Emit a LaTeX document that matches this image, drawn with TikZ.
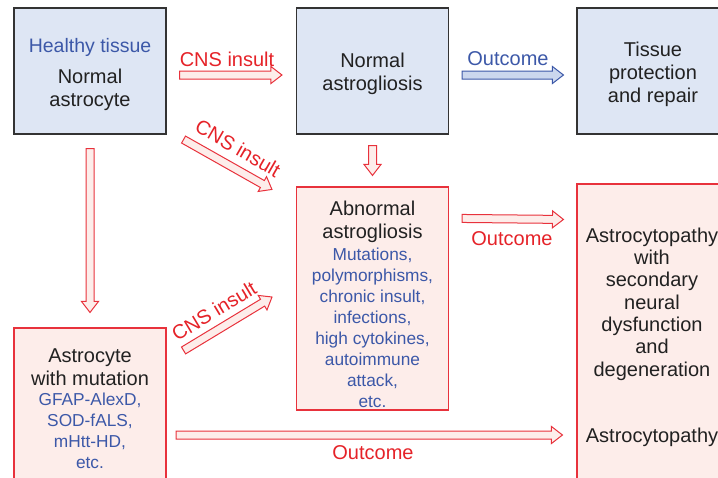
\documentclass[tikz,border=0pt]{standalone}
\usepackage{fontspec}
\setmainfont{Liberation Sans}
\usetikzlibrary{calc}
\definecolor{bfill}{HTML}{DEE6F4}
\definecolor{bdraw}{HTML}{333333}
\definecolor{pfill}{HTML}{FDEDEA}
\definecolor{pdraw}{HTML}{E8323C}
\definecolor{rtext}{HTML}{E52228}
\definecolor{btext}{HTML}{3C58A8}
\definecolor{bafill}{HTML}{CBD7EE}
\newcommand{\blockarr}[3]{%
  \draw[#1] ($(#2)!4pt!90:(#3)$)
    -- ($($(#3)!11pt!(#2)$)!4pt!90:(#3)$)
    -- ($($(#3)!11pt!(#2)$)!8.5pt!90:(#3)$)
    -- (#3)
    -- ($($(#3)!11pt!(#2)$)!8.5pt!-90:(#3)$)
    -- ($($(#3)!11pt!(#2)$)!4pt!-90:(#3)$)
    -- ($(#2)!4pt!-90:(#3)$) -- cycle;}
\tikzset{
  bbox/.style={draw=bdraw, fill=bfill, line width=1.1pt, minimum width=152pt, inner sep=0pt},
  pbox/.style={draw=pdraw, fill=pfill, line width=1.1pt, minimum width=152pt, inner sep=0pt},
  blk/.style={align=center, font=\fontsize{20}{23}\selectfont, text=black!87, inner sep=0pt},
  blu/.style={align=center, font=\fontsize{17.3}{21}\selectfont, text=btext, inner sep=0pt},
  rlab/.style={font=\fontsize{20}{23}\selectfont, text=rtext, inner sep=0pt},
  blab/.style={font=\fontsize{20}{23}\selectfont, text=btext, inner sep=0pt},
  rarr/.style={draw=pdraw, fill=pfill, line width=1pt, line join=miter},
  barr/.style={draw=btext, fill=bafill, line width=1pt, line join=miter},
}
\begin{document}
\begin{tikzpicture}[x=1pt, y=-1pt]
\useasboundingbox (0,0) rectangle (718,477);
\clip (0,0) rectangle (718,477);
% boxes
\node[bbox, minimum height=126pt] (healthy) at (90,71) {};
\node[bbox, minimum height=126pt] (normal) at (372.5,71) {};
\node[bbox, minimum height=126pt] (tissue) at (653,71) {};
\node[pbox, minimum height=223pt] (abnormal) at (372.5,298.5) {};
\node[pbox, minimum height=330pt] (astropathy) at (653,349) {};
\node[pbox, minimum height=200pt] (mutation) at (90,428) {};
% texts
\node[blu, font=\fontsize{19.5}{23}\selectfont] (t1a) at (90,47) {Healthy tissue};
\node[blk] (t1b) at (90,90) {Normal\\astrocyte};
\node[blk] (t2) at (372.5,74) {Normal\\astrogliosis};
\node[blk] (t3) at (653,74) {Tissue\\protection\\and repair};
\node[blk] (t4a) at (372.5,222) {Abnormal\\astrogliosis};
\node[blu] (t4b) at (372.5,327.5) {Mutations,\\polymorphisms,\\chronic insult,\\infections,\\high cytokines,\\autoimmune\\attack,\\etc.};
\node[blk] (t6a) at (90,367) {Astrocyte\\with mutation};
\node[blu] (t6b) at (90,430.5) {GFAP-AlexD,\\SOD-fALS,\\mHtt-HD,\\etc.};
\node[blk, font=\fontsize{20}{22.3}\selectfont] (t5a) at (652,304) {Astrocytopathy\\with\\secondary\\neural\\dysfunction\\and\\degeneration};
\node[blk] (t5b) at (652,437) {Astrocytopathy};
% arrow end points
\coordinate (a1s) at ($(healthy.east)+(13,4)$);
\coordinate (a1e) at ($(normal.west)+(-14,4)$);
\coordinate (a2s) at ($(normal.east)+(13,4)$);
\coordinate (a2e) at ($(tissue.west)+(-13,4)$);
\coordinate (a3s) at ($(normal.south)+(0,11)$);
\coordinate (a3e) at ($(abnormal.north)+(0,-11)$);
\coordinate (a4s) at ($(healthy.south east)+(17,5)$);
\coordinate (a4e) at ($(abnormal.north west)+(-24,3)$);
\coordinate (a5s) at ($(healthy.south)+(0,14)$);
\coordinate (a5e) at ($(mutation.north)+(0,-15)$);
\coordinate (a6s) at ($(mutation.north east)+(17,23)$);
\coordinate (a6e) at (272,297);
\coordinate (a7s) at ($(abnormal.north east)+(13,32)$);
\coordinate (a7e) at ($(astropathy.north west)+(-13,36)$);
\coordinate (a8s) at (176,435);
\coordinate (a8e) at ($(astropathy.west)+(-14,86)$);
\blockarr{rarr}{a1s}{a1e}
\blockarr{barr}{a2s}{a2e}
\blockarr{rarr}{a3s}{a3e}
\blockarr{rarr}{a4s}{a4e}
\blockarr{rarr}{a5s}{a5e}
\blockarr{rarr}{a6s}{a6e}
\blockarr{rarr}{a7s}{a7e}
\blockarr{rarr}{a8s}{a8e}
% labels
\node[rlab] (l1) at (227,59) {CNS insult};
\node[blab] (l2) at (508,59) {Outcome};
\node[rlab, rotate=-30] (l3) at (238,148) {CNS insult};
\node[rlab, rotate=31] (l4) at (214,311) {CNS insult};
\node[rlab] (l5) at (512,239) {Outcome};
\node[rlab] (l6) at (373,453) {Outcome};
\end{tikzpicture}
\end{document}
